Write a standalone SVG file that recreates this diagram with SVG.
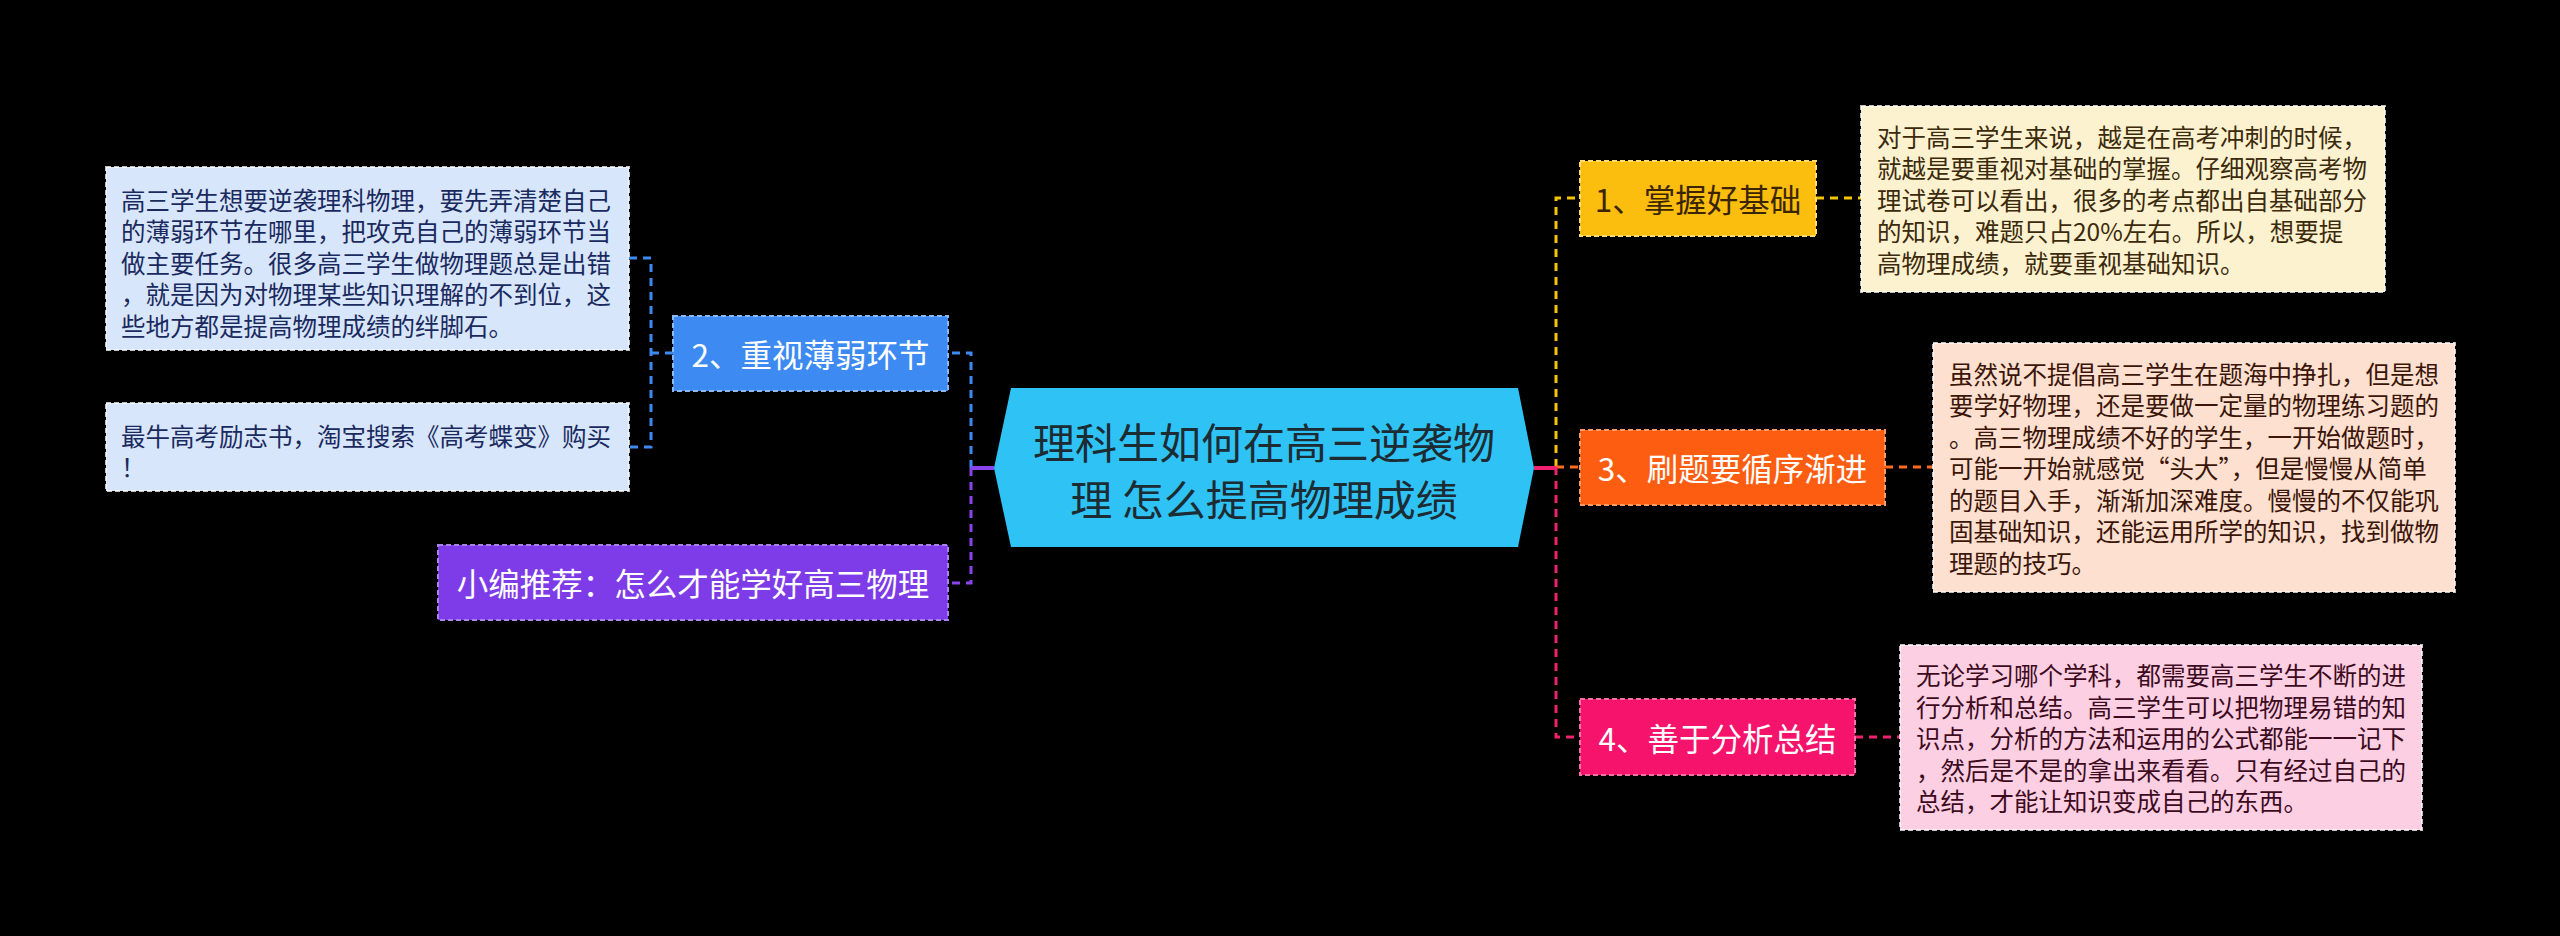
<svg xmlns="http://www.w3.org/2000/svg" width="2560" height="936" viewBox="0 0 2560 936">
<style>
text{font-family:"Noto Sans CJK SC","Noto Sans",sans-serif;dominant-baseline:central}
.t{font-size:24.5px}
.n{font-size:31.5px;text-anchor:middle}
.c{font-size:42px;text-anchor:middle;fill:#1d2b33}
.w{fill:#ffffff}
.bx{stroke:#ffffff;stroke-opacity:0.75;stroke-width:2;stroke-dasharray:5 3}
.nd{stroke-width:2;stroke-dasharray:5 3}
.ln{fill:none;stroke-width:3;stroke-dasharray:8 6}
</style>
<rect width="2560" height="936" fill="#000000"/>
<g id="connectors">
<path class="ln" stroke="#3d8bf2" d="M673,353 H651 M629,258 H651 V447 H629"/>
<path class="ln" stroke="#3d8bf2" d="M971,468 V353 H948"/>
<path class="ln" stroke="#8a44ee" d="M971,468 V583 H948"/>
<path fill="none" stroke="#8a44ee" stroke-width="4" d="M971,468 H994"/>
<path class="ln" stroke="#f5c400" d="M1556,467 V198 H1580 M1816,198 H1861"/>
<path class="ln" stroke="#ff6a20" d="M1556,467 H1580 M1885,467 H1933"/>
<path class="ln" stroke="#f0226f" d="M1556,467 V737 H1580 M1855,737 H1900"/>
<path fill="none" stroke="#f0226f" stroke-width="4" d="M1534,468 H1556"/>
</g>
<g id="root">
<polygon points="1011,388 1518,388 1534,468 1518,547 1011,547 994,468" fill="#2fc3f5"/>
<text class="c" x="1264" y="440">理科生如何在高三逆袭物</text>
<text class="c" x="1264" y="497">理 怎么提高物理成绩</text>
</g>
<g id="node2">
<rect class="nd" x="673" y="316" width="275" height="75" fill="#3d8bf2" stroke="#8ab8f7"/>
<text class="n w" x="810.5" y="353">2、重视薄弱环节</text>
</g>
<g id="node-tuijian">
<rect class="nd" x="438" y="545" width="510" height="75" fill="#7d3ce8" stroke="#a981f0"/>
<text class="n w" x="693" y="582">小编推荐：怎么才能学好高三物理</text>
</g>
<g id="note-left1">
<rect class="bx" x="106" y="167" width="523" height="183" fill="#d8e6fb"/>
<g class="t" fill="#1a2a5e">
<text x="121" y="199">高三学生想要逆袭理科物理，要先弄清楚自己</text>
<text x="121" y="230.5">的薄弱环节在哪里，把攻克自己的薄弱环节当</text>
<text x="121" y="262">做主要任务。很多高三学生做物理题总是出错</text>
<text x="121" y="293.5">，就是因为对物理某些知识理解的不到位，这</text>
<text x="121" y="325">些地方都是提高物理成绩的绊脚石。</text>
</g>
</g>
<g id="note-left2">
<rect class="bx" x="106" y="403" width="523" height="88" fill="#d8e6fb"/>
<g class="t" fill="#1a2a5e">
<text x="121" y="435">最牛高考励志书，淘宝搜索《高考蝶变》购买</text>
<text x="121" y="466.5">！</text>
</g>
</g>
<g id="node1">
<rect class="nd" x="1580" y="161" width="236" height="75" fill="#fbbd0e" stroke="#ffdc70"/>
<text class="n" x="1698" y="198" fill="#3b2500">1、掌握好基础</text>
</g>
<g id="note1">
<rect class="bx" x="1861" y="106" width="524" height="186" fill="#fdf2d0"/>
<g class="t" fill="#3b2a0b">
<text x="1877" y="136">对于高三学生来说，越是在高考冲刺的时候，</text>
<text x="1877" y="167.5">就越是要重视对基础的掌握。仔细观察高考物</text>
<text x="1877" y="199">理试卷可以看出，很多的考点都出自基础部分</text>
<text x="1877" y="230.5">的知识，难题只占20%左右。所以，想要提</text>
<text x="1877" y="262">高物理成绩，就要重视基础知识。</text>
</g>
</g>
<g id="node3">
<rect class="nd" x="1580" y="430" width="305" height="75" fill="#fd5d10" stroke="#ff9a66"/>
<text class="n w" x="1732.5" y="467">3、刷题要循序渐进</text>
</g>
<g id="note3">
<rect class="bx" x="1933" y="343" width="522" height="249" fill="#fde0d0"/>
<g class="t" fill="#3b1508">
<text x="1949" y="373">虽然说不提倡高三学生在题海中挣扎，但是想</text>
<text x="1949" y="404.5">要学好物理，还是要做一定量的物理练习题的</text>
<text x="1949" y="436">。高三物理成绩不好的学生，一开始做题时，</text>
<text x="1949" y="467.5">可能一开始就感觉“头大”，但是慢慢从简单</text>
<text x="1949" y="499">的题目入手，渐渐加深难度。慢慢的不仅能巩</text>
<text x="1949" y="530.5">固基础知识，还能运用所学的知识，找到做物</text>
<text x="1949" y="562">理题的技巧。</text>
</g>
</g>
<g id="node4">
<rect class="nd" x="1580" y="699" width="275" height="76" fill="#f6136c" stroke="#fb6fa5"/>
<text class="n w" x="1717.5" y="737">4、善于分析总结</text>
</g>
<g id="note4">
<rect class="bx" x="1900" y="645" width="522" height="185" fill="#fcd0e2"/>
<g class="t" fill="#3d0a1e">
<text x="1916" y="674.5">无论学习哪个学科，都需要高三学生不断的进</text>
<text x="1916" y="706">行分析和总结。高三学生可以把物理易错的知</text>
<text x="1916" y="737.5">识点，分析的方法和运用的公式都能一一记下</text>
<text x="1916" y="769">，然后是不是的拿出来看看。只有经过自己的</text>
<text x="1916" y="800.5">总结，才能让知识变成自己的东西。</text>
</g>
</g>
</svg>
